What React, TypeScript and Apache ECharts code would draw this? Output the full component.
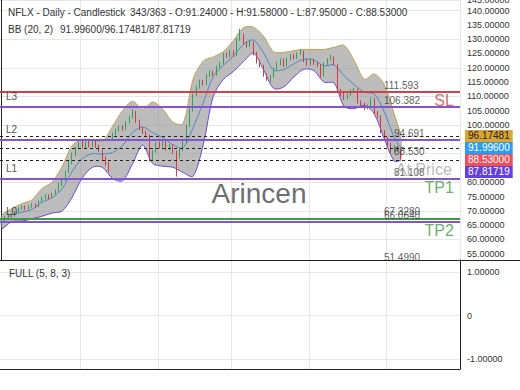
import React, { useEffect, useRef } from "react";
import * as echarts from "echarts";

const FONT = "'Liberation Sans', Arial, sans-serif";

// ---- data ----
const slotCount = 137; // candles + empty space on the right
const slots = Array.from({ length: slotCount }, (_, i) => String(i));
const monthStarts = [24, 47, 69, 92, 115];

const opens = [66.6,67.2,67.9,68.5,68.1,69.6,70.7,71.4,70.7,71.4, 72.1,71.6,73.1,74.4,75.3,74.7,75.9,77.0,79.0,80.8, 83.6,86.7,89.5,91.9,93.5,92.1,93.9,92.6,94.1,92.6, 90.9,88.3,86.5,95.0,96.9,98.1,99.3,98.7,100.9,102.6, 104.5,101.3,98.8,97.5,96.1,88.2,90.7,93.6,92.5,94.2, 91.6,92.9,90.5,88.7,91.3,93.9,99.7,105.1,110.5,113.1, 115.3,114.4,117.3,118.6,117.7,120.3,121.5,124.7,124.1,125.7, 124.4,129.9,131.4,128.8,127.7,128.7,125.0,122.1,120.5,117.5, 116.1,116.9,119.6,121.3,122.7,120.9,123.0,124.3,123.5,124.9, 125.5,122.5,121.3,122.7,121.6,120.9,117.3,121.4,122.9,123.5, 120.8,112.1,110.7,109.4,110.6,111.9,112.2,108.1,107.3,105.9, 106.7,108.9,104.3,102.9,97.7,95.2,93.3,90.9,92.4,91.24];
const closes = [67.2,67.8,68.4,68.0,69.5,70.8,71.3,70.6,71.5,72.0, 71.4,73.2,74.5,75.2,74.6,75.8,76.9,79.2,80.6,83.5, 86.8,89.6,91.8,93.4,92.2,93.8,92.7,94.0,92.5,91.0, 88.2,86.4,84.3,96.8,98.0,99.2,98.6,100.8,102.5,104.6, 101.2,98.7,97.4,96.2,88.0,90.6,93.5,92.4,94.3,91.5, 92.8,90.4,88.6,91.2,93.8,99.6,105.0,110.4,113.0,115.2, 114.3,117.2,118.5,117.6,120.2,121.4,124.6,124.0,125.6,124.3, 129.8,131.5,128.7,127.6,128.8,124.9,122.0,120.6,117.4,116.0, 116.8,119.5,121.4,122.6,120.8,122.9,124.2,123.4,124.8,125.6, 122.4,121.2,122.6,121.5,120.8,117.2,121.3,122.8,123.6,121.4, 112.0,110.6,109.3,110.5,111.8,112.3,108.0,107.2,105.8,106.6, 109.0,104.2,103.0,97.6,95.1,93.2,90.8,92.5,91.2,88.53];
const highs = [67.6,68.2,68.9,69.0,69.9,71.2,71.9,71.8,71.9,72.6, 72.5,73.6,75.0,75.8,75.7,76.3,77.4,79.8,81.2,84.0, 87.5,90.3,92.4,94.2,94.4,94.6,94.5,94.8,94.5,93.1, 91.4,89.0,87.2,97.4,98.7,99.8,99.9,101.4,103.2,105.5, 104.9,101.8,99.3,98.0,96.6,91.2,94.1,94.2,94.9,94.7, 93.4,93.3,91.0,91.8,94.4,100.2,105.7,111.0,113.7,115.9, 115.8,117.8,119.1,119.0,120.8,122.0,125.2,125.3,126.2,126.1, 130.4,133.6,131.9,129.3,129.5,129.2,125.5,122.6,121.0,118.0, 117.4,120.1,122.0,123.2,123.2,123.5,124.8,124.8,125.4,126.5, 126.0,123.0,123.2,123.1,122.0,121.3,121.9,123.4,124.6,124.0, 121.2,112.6,111.2,111.0,112.4,112.9,112.7,108.6,107.8,107.2, 109.6,109.4,104.8,103.4,98.2,95.7,93.8,93.0,92.9,91.58];
const lows = [66.2,66.9,67.5,67.6,67.9,69.3,70.4,70.2,70.5,71.1, 71.0,71.3,72.8,74.0,74.1,74.4,75.6,76.7,78.6,80.4, 83.2,86.3,89.1,91.5,91.8,91.8,92.2,92.3,92.0,90.6, 87.6,85.8,83.5,94.6,96.4,97.6,98.0,98.3,100.5,102.2, 100.7,98.2,96.9,95.7,87.3,87.8,90.3,91.9,92.1,91.0, 91.2,89.9,82.0,88.3,90.9,93.5,99.3,104.7,110.1,112.7, 113.8,114.0,116.9,117.1,117.3,119.9,121.1,123.5,123.7,123.8, 124.0,129.4,128.2,127.1,127.3,124.4,121.5,120.1,116.9,115.5, 115.0,116.5,119.2,120.9,120.3,120.5,122.6,122.9,123.1,124.5, 121.9,120.7,120.9,121.0,120.3,116.7,116.9,121.0,122.5,120.9, 111.4,110.1,108.8,109.0,110.2,111.5,107.5,106.7,105.3,105.5, 106.3,103.7,102.5,97.1,94.6,92.7,90.3,90.5,90.8,87.95];

const bbIndex = [0,3,6,9,12,15,18,21,24,27,30,33,36,39,42,45,48,51,54,57,60,63,66,69,72,75,78,81,84,87,90,93,96,99,102,105,108,111,114,117,119];
const bbUpper = [68.5,70.8,72.5,73.8,77.8,80.0,85.5,92.8,95.0,94.8,94.3,99.5,105.0,108.3,105.5,108.0,105.5,101.0,100.5,116.0,122.3,123.8,125.7,129.5,134.0,134.2,131.0,125.6,125.4,126.0,126.4,126.4,126.4,127.2,127.8,122.5,116.0,117.8,114.0,103.5,96.17481];
const bbMid = [66.0,68.5,69.5,70.5,73.0,74.6,77.7,83.8,88.3,90.0,89.8,90.4,92.8,97.4,99.3,97.3,95.6,93.1,92.0,99.1,107.7,116.9,120.8,124.1,128.1,129.7,125.2,119.2,119.4,121.4,123.0,122.7,120.7,121.0,117.2,114.1,111.5,110.8,104.5,95.4,91.996];
const bbLower = [63.5,66.2,66.4,67.2,68.1,69.2,69.9,74.8,81.5,85.2,85.2,81.3,80.5,86.5,93.0,86.5,85.6,85.2,83.4,82.1,93.0,110.0,115.9,118.7,122.2,125.1,119.3,112.8,113.3,116.8,119.5,119.0,115.0,114.7,106.5,105.7,106.9,103.8,95.0,87.3,87.81719];

const levelValues = [111.593, 106.382, 94.691, 81.108, 67.328, 66.064];
const levelKinds = ["stop", "zone", "zone", "zone", "target", "zone"];
const dashedValues = [96.17481, 91.996, 87.81719];

const priceTagValues = [111.593, 106.382, 67.328, 66.064, 51.499];
const priceTagTexts = ["111.593", "106.382", "67.3280", "66.0640", "51.4990"];
const nearTagValues = [94.691, 88.53, 81.108];
const nearTagTexts = ["94.691", "88.530", "81.108"];
const zoneNames = ["L3", "L2", "L1", "L0"];
const zoneValues = [106.382, 94.691, 81.108, 66.064];
const targetNames = ["SL", "TP1", "TP2", "At Price"];
const targetValues = [111.593, 81.108, 66.064, 88.53];

const Y_MIN = 52.8;
const Y_MAX = 143.7;

const GRID = "#e6e6e6";
const RED = "#d2404a";
const PURPLE = "#8552d0";
const GREEN = "#3f9a45";

export default function App() {
  const ref = useRef<HTMLDivElement>(null);
  useEffect(() => {
    document.body.style.margin = "0";
    const chart = echarts.init(ref.current!, null, { renderer: "svg" });
    const last = closes.length - 1;

    const kindColor: Record<string, string> = { stop: RED, zone: PURPLE, target: GREEN };

    const labelItems: any[] = [];
    priceTagValues.forEach((v, k) =>
      labelItems.push({
        value: [114, v],
        name: priceTagTexts[k],
        label: { show: true, formatter: "{b}", position: [0, -11], align: "left", verticalAlign: "top", fontSize: 10, color: "#333" },
      })
    );
    nearTagValues.forEach((v, k) =>
      labelItems.push({
        value: [117, v],
        name: nearTagTexts[k],
        label: { show: true, formatter: "{b}", position: [0, -11], align: "left", verticalAlign: "top", fontSize: 10, color: "#333" },
      })
    );
    zoneValues.forEach((v, k) =>
      labelItems.push({
        value: [2, v],
        name: zoneNames[k],
        label: { show: true, formatter: "{b}", position: [-2, -15], align: "left", verticalAlign: "top", fontSize: 10, color: "#222" },
      })
    );
    const targetColors = [RED, GREEN, GREEN, "rgba(150,150,150,0.85)"];
    targetValues.forEach((v, k) =>
      labelItems.push({
        value: [slotCount - 1, v],
        name: targetNames[k],
        label: {
          show: true, formatter: "{b}", position: k === 3 ? [-6, 4] : [-4, 1], align: "right", verticalAlign: "top",
          fontSize: 16, color: targetColors[k],
        },
      })
    );

    const yFmt = (v: number) => {
      const r = Math.round(v / 5) * 5;
      if (Math.abs(v - r) < 0.01) return v.toFixed(5);
      return (v < 100 ? Math.floor(v / 5) * 5 : Math.ceil(v / 5) * 5).toFixed(5);
    };

    const splitX = { show: true, interval: (i: number) => monthStarts.includes(i), lineStyle: { color: GRID, width: 1 } };

    const bandRender = (params: any, api: any) => {
      if (params.dataIndex !== 0) return null;
      const up = bbIndex.map((x, k) => api.coord([x, bbUpper[k]]));
      const md = bbIndex.map((x, k) => api.coord([x, bbMid[k]]));
      const lo = bbIndex.map((x, k) => api.coord([x, bbLower[k]]));
      return {
        type: "group",
        children: [
          { type: "polygon", shape: { points: up.concat(lo.slice().reverse()), smooth: 0.3 }, style: { fill: "rgba(140,140,140,0.58)", stroke: "none" } },
          { type: "polyline", shape: { points: md, smooth: 0.3 }, style: { stroke: "#4f86c6", lineWidth: 1, fill: "none" } },
          { type: "polyline", shape: { points: up, smooth: 0.3 }, style: { stroke: "#c9a24c", lineWidth: 1, fill: "none" } },
          { type: "polyline", shape: { points: lo, smooth: 0.3 }, style: { stroke: "#6a4ad8", lineWidth: 1, fill: "none" } },
        ],
      };
    };

    chart.setOption({
      animation: false,
      textStyle: { fontFamily: FONT },
      grid: [
        { left: 0, right: 60, top: 0, height: 260, containLabel: false, outerBoundsMode: "none" },
        { left: 0, right: 60, top: 260, height: 109, containLabel: false, outerBoundsMode: "none" },
      ],
      xAxis: [
        { type: "category", gridIndex: 0, data: slots, boundaryGap: true, axisLine: { show: false }, axisTick: { show: false }, axisLabel: { show: false }, splitLine: splitX },
        { type: "category", gridIndex: 1, data: slots, boundaryGap: true, position: "bottom", axisLine: { show: true, onZero: false, lineStyle: { color: "#222" } }, axisTick: { show: false }, axisLabel: { show: false }, splitLine: splitX },
        { type: "value", gridIndex: 0, min: -0.5, max: slotCount - 0.5, show: false },
      ],
      yAxis: [
        {
          type: "value", gridIndex: 0, position: "right", min: Y_MIN, max: Y_MAX, minInterval: 5, maxInterval: 5,
          axisLine: { show: true, lineStyle: { color: "#222" } }, axisTick: { show: false }, splitLine: { show: false },
          axisLabel: { fontSize: 9, color: "#333", margin: 7, formatter: yFmt },
        },
        {
          type: "value", gridIndex: 0, position: "right", min: Y_MIN, max: Y_MAX, minInterval: 10, maxInterval: 10,
          axisLine: { show: false }, axisTick: { show: false }, axisLabel: { show: false },
          splitLine: { show: true, lineStyle: { color: GRID } },
        },
        {
          type: "value", gridIndex: 1, position: "right", min: -1.23, max: 1.276, minInterval: 1, maxInterval: 1,
          axisLine: { show: true, lineStyle: { color: "#222" } }, axisTick: { show: false },
          splitLine: { show: true, lineStyle: { color: GRID } },
          axisLabel: { showMinLabel: false, showMaxLabel: false, fontSize: 9, color: "#333", margin: 7, formatter: (v: number) => (v === 0 ? "0" : v.toFixed(5)) },
        },
      ],
      series: [
        {
          name: "BB (20, 2)", type: "custom", xAxisIndex: 2, yAxisIndex: 0, silent: true, z: 2,
          data: bbIndex.map((x, k) => [x, bbUpper[k], bbMid[k], bbLower[k]]),
          encode: { x: 0, y: [1, 2, 3] },
          renderItem: bandRender,
        },
        {
          name: "NFLX", type: "candlestick", xAxisIndex: 0, yAxisIndex: 0, barWidth: "38%",
          data: opens.map((o, i) => [o, closes[i], lows[i], highs[i]]),
          itemStyle: { color: "#2fa34f", color0: "#d33a45", borderColor: "#2fa34f", borderColor0: "#d33a45", borderWidth: 1 },
          z: 4,
        },
        {
          name: "levels", type: "line", xAxisIndex: 0, yAxisIndex: 0, data: [], symbol: "none", z: 5,
          markLine: {
            silent: true, symbol: ["none", "none"], label: { show: false },
            data: [
              ...levelValues.map((v, k) => ({ yAxis: v, lineStyle: { color: kindColor[levelKinds[k]], width: 1.8, type: "solid" } })),
              ...dashedValues.map((v) => ({ yAxis: v, lineStyle: { color: "#222", width: 1, type: [3, 3] } })),
            ],
          },
        },
        {
          name: "tags", type: "scatter", xAxisIndex: 0, yAxisIndex: 0, symbolSize: 1, clip: false, silent: true,
          itemStyle: { color: "rgba(0,0,0,0)" }, data: labelItems, z: 6,
        },
        { name: "stoch", type: "line", xAxisIndex: 1, yAxisIndex: 2, data: [], symbol: "none" },
      ],
    });

    // right-side current-value tags, stacked so they do not overlap
    const tagVals = [bbUpper[bbUpper.length - 1], bbMid[bbMid.length - 1], closes[last], bbLower[bbLower.length - 1]];
    const tagBg = ["#d9a634", "#2f9bf0", "#ef4f5c", "#6540e0"];
    const tagFg = ["#222", "#fff", "#fff", "#fff"];
    const ys = tagVals.map((v) => chart.convertToPixel({ yAxisIndex: 0 }, v) as number);
    const placed: number[] = [];
    ys.forEach((y, k) => {
      placed.push(k === 0 ? y : Math.max(y, placed[k - 1] + 12));
    });

    const fmt5 = (v: number) => v.toFixed(5);
    const graphics: any[] = [
      { type: "line", shape: { x1: 0, y1: 260.5, x2: 520, y2: 260.5 }, style: { stroke: "#222", lineWidth: 1 }, z: 10 },
      { type: "text", x: 8, y: 12, style: { text: "NFLX - Daily - Candlestick", fill: "#333", fontSize: 10, fontFamily: FONT, verticalAlign: "middle" }, z: 10 },
      {
        type: "text", x: 130, y: 12,
        style: {
          text: `343/363 - O:${fmt5(opens[last])} - H:${fmt5(highs[last])} - L:${fmt5(lows[last])} - C:${fmt5(closes[last])}`,
          fill: "#333", fontSize: 10, fontFamily: FONT, verticalAlign: "middle",
        }, z: 10,
      },
      { type: "text", x: 8, y: 29, style: { text: "BB (20, 2)", fill: "#333", fontSize: 10, fontFamily: FONT, verticalAlign: "middle" }, z: 10 },
      {
        type: "text", x: 60, y: 29,
        style: { text: `${fmt5(tagVals[1])}/${fmt5(tagVals[0])}/${fmt5(tagVals[3])}`, fill: "#333", fontSize: 10, fontFamily: FONT, verticalAlign: "middle" }, z: 10,
      },
      { type: "text", x: 259, y: 193, style: { text: "Arincen", fill: "#6e6e6e", fontSize: 28, fontFamily: FONT, align: "center", verticalAlign: "middle" }, z: 1 },
      { type: "text", x: 9, y: 273, style: { text: "FULL (5, 8, 3)", fill: "#333", fontSize: 10, fontFamily: FONT, verticalAlign: "middle" }, z: 10 },
      ...tagVals.map((v, k) => ({
        type: "text", x: 465, y: placed[k], z: 11,
        style: {
          text: fmt5(v), fill: tagFg[k], backgroundColor: tagBg[k], padding: [1, 3],
          fontSize: 10, fontFamily: FONT, verticalAlign: "middle", align: "left",
        },
      })),
    ];
    chart.setOption({ graphic: graphics });

    return () => chart.dispose();
  }, []);
  return <div ref={ref} style={{ width: 520, height: 390 }} />;
}
